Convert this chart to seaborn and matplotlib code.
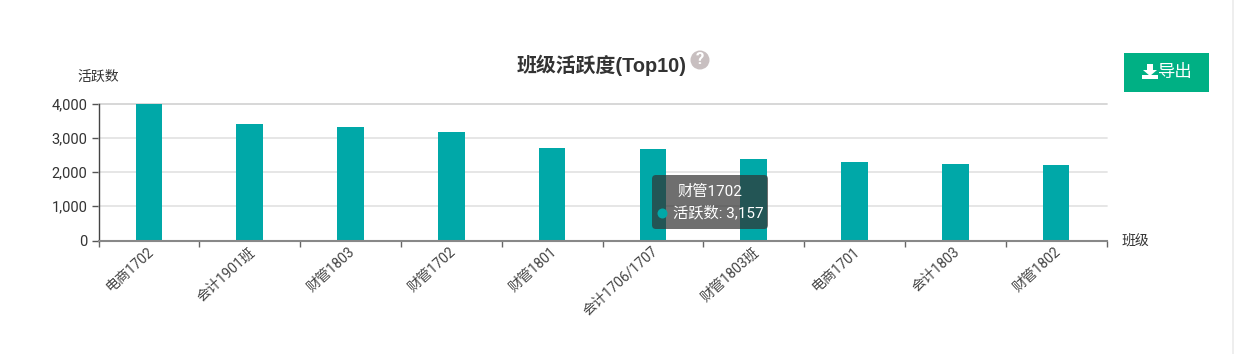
# ======================================
# CLASS ACTIVITY TOP 10 BAR CHART
# ======================================

import numpy as np
import pandas as pd
import seaborn as sns
import matplotlib.pyplot as plt
from matplotlib.patches import Circle, FancyBboxPatch, Polygon, Rectangle
from matplotlib.ticker import FuncFormatter
from matplotlib.transforms import ScaledTranslation

# ======================================
# DATA
# ======================================

classes = [
    "电商1702", "会计1901班", "财管1803", "财管1702", "财管1801",
    "会计1706/1707", "财管1803班", "电商1701", "会计1803", "财管1802",
]
active_counts = [4000, 3390, 3320, 3157, 2710, 2686, 2370, 2305, 2225, 2210]
y_ticks = [0, 1000, 2000, 3000, 4000]

chart_title = "班级活跃度(Top10)"
y_name = "活跃数"
x_name = "班级"
tooltip_title = "财管1702"
tooltip_text = "活跃数: 3,157"
button_text = "导出"

# ======================================
# STYLE
# ======================================

sns.set_style("white")
plt.rcParams["font.family"] = ["Roboto", "Noto Sans CJK SC", "DejaVu Sans"]
TITLE_FONT = ["Liberation Sans", "Noto Sans CJK SC"]

W, H = 1234, 354
BAR_COLOR = "#00a8a8"
TEXT_COLOR = "#333333"


def px(x, y):
    # reference pixels (top left origin) to figure fraction
    return x / W, 1 - y / H


fig = plt.figure(figsize=(W / 100, H / 100), dpi=100)
left, bottom = px(98.5, 240.5)
ax = fig.add_axes([left, bottom, (1106.5 - 98.5) / W, (240.5 - 103.5) / H])

# ======================================
# BARS
# ======================================

df = pd.DataFrame({"class": classes, "count": active_counts})
sns.barplot(
    data=df, x="class", y="count", ax=ax,
    color=BAR_COLOR, saturation=1, width=0.265, linewidth=0, zorder=3,
)

ax.set_xlim(-0.5, len(classes) - 0.5)
ax.set_ylim(0, 4000)
ax.set_xlabel("")
ax.set_ylabel("")

# ======================================
# AXES
# ======================================

ax.set_yticks(y_ticks)
ax.yaxis.set_major_formatter(FuncFormatter(lambda v, _: f"{int(v):,}"))
ax.tick_params(
    axis="y", length=5, width=1, color="#555555", pad=3,
    labelsize=10.5, labelcolor=TEXT_COLOR, left=True,
)

ax.set_xticks(range(len(classes)))
ax.set_xticklabels(
    classes, rotation=42, ha="right", rotation_mode="anchor",
    fontsize=10, color="#444444",
)
ax.tick_params(axis="x", which="major", length=0, pad=3)
ax.set_xticks(np.arange(len(classes) + 1) - 0.5, minor=True)
ax.tick_params(axis="x", which="minor", length=4, width=1, color="#666666", bottom=True)

# nudge the rotated labels left, like the reference
nudge = ScaledTranslation(-2 / 100, 0, fig.dpi_scale_trans)
for label in ax.get_xticklabels():
    label.set_transform(label.get_transform() + nudge)

for value in y_ticks[1:]:
    line_color = "#d4d4d4" if value == 4000 else "#e4e4e4"
    ax.axhline(value, color=line_color, lw=1.3, zorder=1, clip_on=False)

for side in ["top", "right"]:
    ax.spines[side].set_visible(False)
ax.spines["left"].set_color("#444444")
ax.spines["left"].set_linewidth(1)
ax.spines["bottom"].set_color("#888888")
ax.spines["bottom"].set_linewidth(1.5)
ax.spines["bottom"].set_zorder(4)

# ======================================
# TITLE AND AXIS NAMES
# ======================================

fig.text(*px(602, 65), chart_title, ha="center", va="center",
         fontsize=14.3, fontweight="bold", color=TEXT_COLOR, family=TITLE_FONT)
fig.text(*px(98, 76.5), y_name, ha="center", va="center", fontsize=10, color=TEXT_COLOR)
fig.text(*px(1135, 241), x_name, ha="center", va="center", fontsize=10, color=TEXT_COLOR)

# help icon next to the title
overlay = fig.add_axes([0, 0, 1, 1], zorder=10)
overlay.set_xlim(0, W)
overlay.set_ylim(H, 0)
overlay.axis("off")
overlay.patch.set_alpha(0)

overlay.add_patch(Circle((700, 60), 9.5, color="#c8bfc0", lw=0))
overlay.text(700, 60, "?", ha="center", va="center", color="white",
             fontsize=12, fontweight="bold")

# ======================================
# TOOLTIP
# ======================================

overlay.add_patch(FancyBboxPatch(
    (652, 175), 116, 54, boxstyle="round,pad=0,rounding_size=4",
    facecolor=(50 / 255, 50 / 255, 50 / 255, 0.7), edgecolor="none", lw=0,
))
overlay.text(710, 191.5, tooltip_title, ha="center", va="center",
             color="white", fontsize=11)
overlay.add_patch(Circle((662.5, 213.5), 5, color=BAR_COLOR, lw=0))
overlay.text(673, 213, tooltip_text, ha="left", va="center",
             color="white", fontsize=11)

# ======================================
# EXPORT BUTTON
# ======================================

overlay.add_patch(Rectangle((1124, 53), 85, 39, color="#00b084", lw=0))
overlay.add_patch(Polygon(
    [(1147, 64), (1153, 64), (1153, 70), (1157, 70), (1150, 76), (1143, 70), (1147, 70)],
    color="white", lw=0,
))
overlay.add_patch(Rectangle((1142, 75), 16, 4, color="white", lw=0))
overlay.text(1175, 72.5, button_text, ha="center", va="center", color="white", fontsize=12.5)

# scrollbar edge on the right of the page
overlay.add_patch(Rectangle((1232, 0), 2, H, color="#eeeeee", lw=0))

plt.savefig("out.png", dpi=100)
plt.close()
